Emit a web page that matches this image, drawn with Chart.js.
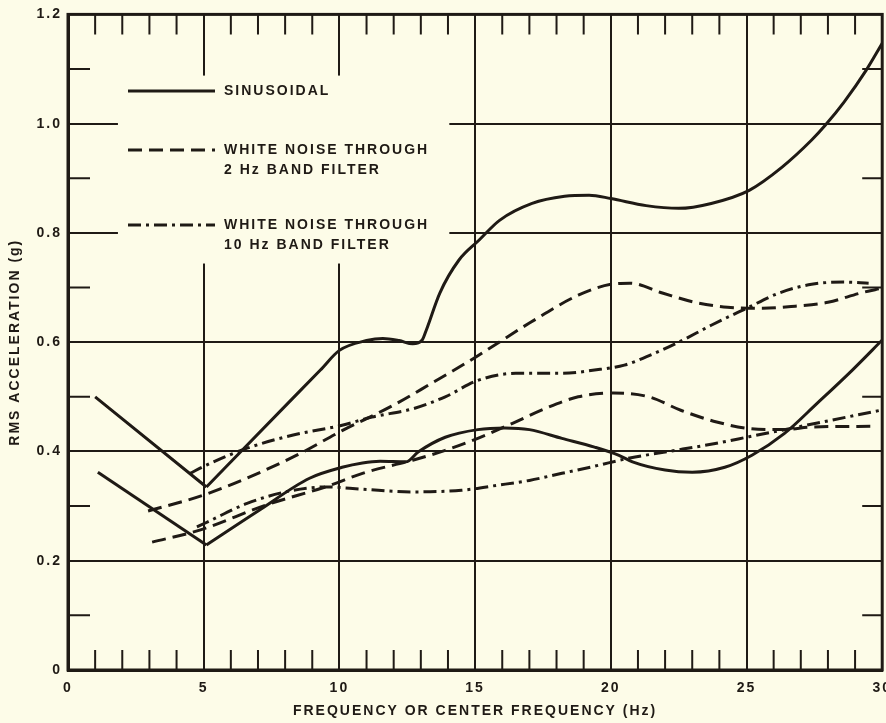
<!DOCTYPE html>
<html>
<head>
<meta charset="utf-8">
<script src="https://cdn.jsdelivr.net/npm/chart.js@4.4.1/dist/chart.umd.min.js"></script>
<style>
  html, body { margin: 0; padding: 0; background: #fdfce8; overflow: hidden; width: 886px; height: 723px; }
  #wrap { width: 900px; height: 723px; }
</style>
</head>
<body>
<div id="wrap"><canvas id="chart"></canvas></div>
<script>
/* ======================================================================
   데이터 — 그림에서 읽은 값 (x: Hz, y: g)
   ====================================================================== */
const xTicks = [0, 5, 10, 15, 20, 25, 30];
const yTicks = [0, 0.2, 0.4, 0.6, 0.8, 1.0, 1.2];

// sinusoidal, upper curve (falling leg + rising leg)
const sinHighFallX = [1, 5.1];
const sinHighFallY = [0.5, 0.335];
const sinHighRiseX = [5.1, 8, 9.3, 10, 11, 11.6, 12.2, 12.7, 13.05, 13.2, 13.7, 14.4, 15.15, 15.9, 17.1, 18.3, 19.2, 20, 21.3, 22.5, 23.7, 25.1, 26.3, 27.4, 27.9, 28.6, 29.4, 30];
const sinHighRiseY = [0.335, 0.483, 0.549, 0.585, 0.603, 0.607, 0.603, 0.597, 0.604, 0.622, 0.69, 0.75, 0.787, 0.823, 0.854, 0.867, 0.869, 0.863, 0.85, 0.845, 0.854, 0.878, 0.92, 0.97, 0.997, 1.04, 1.097, 1.147];

// sinusoidal, lower curve
const sinLowFallX = [1.1, 5.1];
const sinLowFallY = [0.362, 0.229];
const sinLowRiseX = [5.1, 7.06, 8.9, 10.1, 10.85, 11.5, 12.45, 12.9, 13.9, 15.1, 16.1, 17, 18.2, 19.4, 20.3, 20.8, 22, 23, 24.2, 25.2, 26.4, 27.6, 28.9, 30];
const sinLowRiseY = [0.229, 0.293, 0.351, 0.371, 0.379, 0.382, 0.381, 0.399, 0.426, 0.44, 0.443, 0.44, 0.424, 0.408, 0.393, 0.381, 0.366, 0.362, 0.371, 0.393, 0.433, 0.488, 0.549, 0.604];

// white noise, 2 Hz band filter
const band2HighX = [2.95, 5.1, 8.3, 10.1, 12, 13.3, 15, 17, 18.8, 20, 20.7, 21.9, 23.1, 24.3, 25.6, 26.8, 28, 29.2, 30];
const band2HighY = [0.291, 0.322, 0.39, 0.438, 0.485, 0.522, 0.572, 0.635, 0.686, 0.706, 0.708, 0.69, 0.673, 0.664, 0.662, 0.666, 0.673, 0.69, 0.699];
const band2LowX = [3.1, 4.85, 7.3, 9.6, 10.85, 12.7, 13.9, 15.1, 16.4, 17.6, 18.8, 20.1, 21.4, 22.6, 23.9, 25.1, 26.3, 27.5, 29.6];
const band2LowY = [0.234, 0.256, 0.302, 0.337, 0.36, 0.384, 0.402, 0.424, 0.452, 0.479, 0.5, 0.507, 0.5, 0.475, 0.454, 0.442, 0.44, 0.445, 0.446];

// white noise, 10 Hz band filter
const band10HighX = [4.5, 5.1, 6.6, 8.3, 10.1, 11.2, 12.7, 13.9, 15.1, 16.5, 18.2, 19.4, 20.5, 21.3, 22.5, 23.7, 25, 26.2, 27.4, 28.6, 29.5];
const band10HighY = [0.36, 0.375, 0.406, 0.43, 0.448, 0.463, 0.478, 0.5, 0.53, 0.543, 0.543, 0.549, 0.558, 0.573, 0.6, 0.631, 0.662, 0.69, 0.706, 0.71, 0.708];
const band10LowX = [4.75, 5.1, 6.6, 8.3, 9.5, 10.85, 12.7, 14.5, 15.8, 17, 18.2, 19.4, 20.7, 22, 23.9, 25.1, 26.3, 28.1, 30];
const band10LowY = [0.262, 0.27, 0.305, 0.329, 0.335, 0.331, 0.326, 0.329, 0.338, 0.347, 0.36, 0.373, 0.388, 0.399, 0.415, 0.427, 0.439, 0.457, 0.476];

const legendLabels = [
  ['SINUSOIDAL'],
  ['WHITE NOISE THROUGH', '2 Hz BAND FILTER'],
  ['WHITE NOISE THROUGH', '10 Hz BAND FILTER']
];

/* ======================================================================
   스타일
   ====================================================================== */
const INK = '#1f1a15';
const PAPER = '#fdfce8';
const FONT = { family: '"Liberation Sans", Arial, sans-serif', size: 14, weight: 'bold' };
const DASH_SOLID = [];
const DASH_2HZ = [14, 7];
const DASH_10HZ = [13, 5, 3, 5];

function pts(xs, ys) {
  return xs.map(function (x, i) { return { x: x, y: ys[i] }; });
}

function curve(xs, ys, dash) {
  return {
    data: pts(xs, ys),
    borderColor: INK, borderWidth: 3, borderDash: dash,
    pointRadius: 0, fill: false,
    cubicInterpolationMode: 'monotone'
  };
}

/* ======================================================================
   플러그인 — 종이 배경, 범례 영역, 안쪽 눈금, 테두리
   ====================================================================== */
const paperPlugin = {
  id: 'paper',
  beforeDraw: function (chart) {
    const ctx = chart.ctx;
    ctx.save();
    ctx.fillStyle = PAPER;
    ctx.fillRect(0, 0, chart.width, chart.height);
    ctx.restore();
    ctx.letterSpacing = '2px';
  },
  beforeDatasetsDraw: function (chart) {
    const ctx = chart.ctx;
    const a = chart.chartArea;
    const xs = chart.scales.x, ys = chart.scales.y;

    // blank the grid behind the legend
    ctx.save();
    ctx.fillStyle = PAPER;
    const bx0 = xs.getPixelForValue(1.84), bx1 = xs.getPixelForValue(14.05);
    const by0 = ys.getPixelForValue(1.088), by1 = ys.getPixelForValue(0.744);
    ctx.fillRect(bx0, by0, bx1 - bx0, by1 - by0);
    ctx.restore();

    // inner minor ticks
    ctx.save();
    ctx.strokeStyle = INK;
    ctx.lineWidth = 2;
    ctx.beginPath();
    for (let v = 1; v < 30; v++) {
      if (v % 5 === 0) continue;
      const px = xs.getPixelForValue(v);
      ctx.moveTo(px, a.bottom); ctx.lineTo(px, a.bottom - 20);
      ctx.moveTo(px, a.top); ctx.lineTo(px, a.top + 20);
    }
    for (let k = 1; k < 12; k += 2) {
      const py = ys.getPixelForValue(k / 10);
      ctx.moveTo(a.left, py); ctx.lineTo(a.left + 22, py);
      ctx.moveTo(a.right, py); ctx.lineTo(a.right - 20, py);
    }
    ctx.stroke();

    // frame
    ctx.lineWidth = 3;
    ctx.strokeRect(a.left, a.top, a.right - a.left, a.bottom - a.top);
    ctx.restore();

    // legend
    const dashes = [DASH_SOLID, DASH_2HZ, DASH_10HZ];
    const rows = [91, 150, 225];
    const lx0 = a.left + 60, lx1 = a.left + 147, tx = a.left + 156;
    ctx.save();
    ctx.strokeStyle = INK;
    ctx.fillStyle = INK;
    ctx.lineWidth = 3;
    ctx.font = FONT.weight + ' ' + FONT.size + 'px ' + FONT.family;
    ctx.textBaseline = 'middle';
    ctx.textAlign = 'left';
    legendLabels.forEach(function (lines, i) {
      ctx.setLineDash(dashes[i]);
      ctx.beginPath();
      ctx.moveTo(lx0, rows[i]); ctx.lineTo(lx1, rows[i]);
      ctx.stroke();
      lines.forEach(function (t, j) { ctx.fillText(t, tx, rows[i] + j * 20); });
    });
    ctx.restore();
  }
};

/* ======================================================================
   차트
   ====================================================================== */
const datasets = [
  curve(sinHighFallX, sinHighFallY, DASH_SOLID),
  curve(sinHighRiseX, sinHighRiseY, DASH_SOLID),
  curve(sinLowFallX, sinLowFallY, DASH_SOLID),
  curve(sinLowRiseX, sinLowRiseY, DASH_SOLID),
  curve(band2HighX, band2HighY, DASH_2HZ),
  curve(band2LowX, band2LowY, DASH_2HZ),
  curve(band10HighX, band10HighY, DASH_10HZ),
  curve(band10LowX, band10LowY, DASH_10HZ)
];

new Chart(document.getElementById('chart'), {
  type: 'line',
  data: { datasets: datasets },
  options: {
    responsive: true, maintainAspectRatio: false, animation: false,
    layout: { padding: { top: 14, right: 16, left: 0, bottom: 0 } },
    plugins: { legend: { display: false }, tooltip: { enabled: false } },
    scales: {
      x: {
        type: 'linear', min: xTicks[0], max: xTicks[xTicks.length - 1],
        afterBuildTicks: function (s) { s.ticks = xTicks.map(function (v) { return { value: v }; }); },
        afterFit: function (s) { s.height = 53; },
        ticks: { padding: 10, color: INK, font: FONT, maxRotation: 0, callback: function (v) { return String(v); } },
        grid: { color: INK, lineWidth: 2, drawTicks: false },
        border: { display: true, color: INK, width: 3 },
        title: { display: true, text: 'FREQUENCY OR CENTER FREQUENCY (Hz)', color: INK, font: FONT, padding: { top: 0, bottom: 3 } }
      },
      y: {
        min: yTicks[0], max: yTicks[yTicks.length - 1],
        afterBuildTicks: function (s) { s.ticks = yTicks.map(function (v) { return { value: v }; }); },
        afterFit: function (s) { s.width = 68; },
        ticks: { padding: 6, color: INK, font: FONT, callback: function (v) { return v === 0 ? '0' : v.toFixed(1); } },
        grid: { color: INK, lineWidth: 2, drawTicks: false },
        border: { display: true, color: INK, width: 3 },
        title: { display: true, text: 'RMS ACCELERATION (g)', color: INK, font: FONT, padding: { top: 7, bottom: 0 } }
      }
    }
  },
  plugins: [paperPlugin]
});
</script>
</body>
</html>
